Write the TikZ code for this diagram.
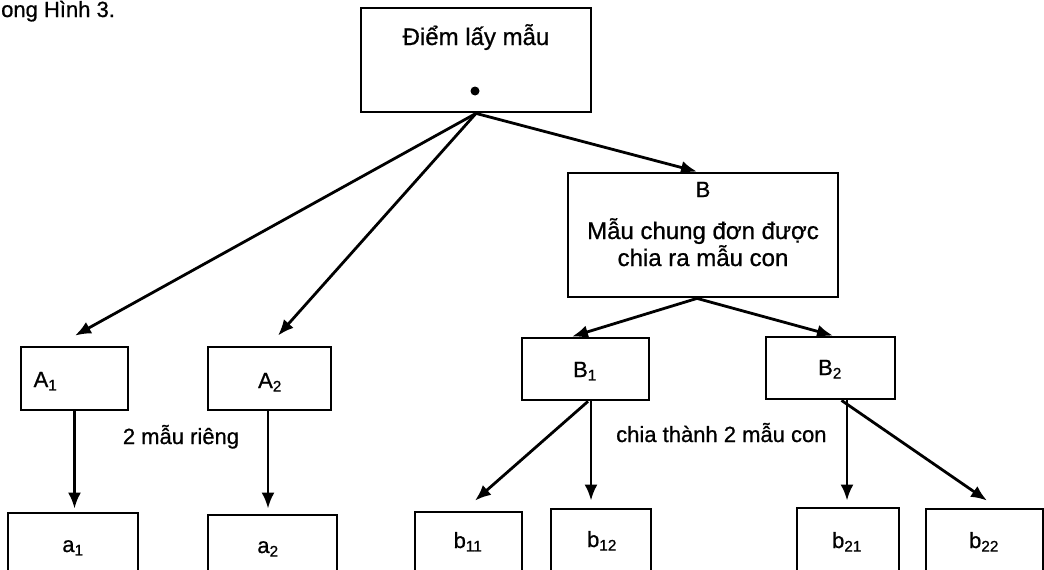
\documentclass[tikz,border=0pt]{standalone}
\usepackage{fontspec}
\setmainfont{Liberation Sans}[FakeBold=0.8]
\usetikzlibrary{arrows.meta}

\tikzset{
  frame/.style={draw, line width=2.8pt, inner sep=0pt},
  lbl/.style={inner sep=0pt, anchor=base, font=\fontsize{22}{26}\selectfont},
  biglbl/.style={inner sep=0pt, anchor=base, font=\fontsize{24}{27}\selectfont},
  conn/.style={line width=2.8pt, -{Latex[length=16pt,width=13pt]}},
}
\newcommand{\sub}[1]{\textsubscript{#1}}

\begin{document}
\begin{tikzpicture}[x=1pt,y=-1pt]
\useasboundingbox (0,0) rectangle (1044,570);
\clip (0,0) rectangle (1044,570);
\fill[white] (0,0) rectangle (1044,570);

% caption fragment at the top edge
\node[lbl, anchor=base west] (cap) at (1,17) {ong Hình 3.};

% sampling point
\node[frame, minimum width=230pt, minimum height=104pt] (top) at (476,60) {};
\node[biglbl] (toptext) at (476,45) {Điểm lấy mẫu};
\fill (475,91) circle (4.5pt) coordinate (pt);

% composite sample B
\node[frame, minimum width=270pt, minimum height=124pt] (B) at (703,235) {};
\node[lbl] (Bname) at (703,197) {B};
\node[biglbl, align=center, anchor=north] (Bdesc) at (703,218) {Mẫu chung đơn được\\chia ra mẫu con};

% first level
\node[frame, minimum width=107pt, minimum height=63pt] (A1) at (74.5,378.5) {};
\node[lbl] (A1t) at (45.5,387) {A\sub{1}};
\node[frame, minimum width=123pt, minimum height=63pt] (A2) at (269.5,378.5) {};
\node[lbl] (A2t) at (270,388) {A\sub{2}};
\node[frame, minimum width=127pt, minimum height=62pt] (B1) at (585.5,369) {};
\node[lbl] (B1t) at (585,377) {B\sub{1}};
\node[frame, minimum width=129pt, minimum height=62pt] (B2) at (830.5,368) {};
\node[lbl] (B2t) at (830,375) {B\sub{2}};

% second level (cut by the lower edge)
\node[frame, minimum width=130pt, minimum height=68pt] (a1) at (73,547) {};
\node[lbl] (a1t) at (73,552) {a\sub{1}};
\node[frame, minimum width=129pt, minimum height=68pt] (a2) at (272.5,549) {};
\node[lbl] (a2t) at (268,553) {a\sub{2}};
\node[frame, minimum width=107pt, minimum height=68pt] (b11) at (468.5,546) {};
\node[lbl] (b11t) at (468,548) {b\sub{11}};
\node[frame, minimum width=100pt, minimum height=68pt] (b12) at (601,543) {};
\node[lbl] (b12t) at (602,547) {b\sub{12}};
\node[frame, minimum width=102pt, minimum height=68pt] (b21) at (848,542) {};
\node[lbl] (b21t) at (847,548) {b\sub{21}};
\node[frame, minimum width=117pt, minimum height=68pt] (b22) at (984.5,543) {};
\node[lbl] (b22t) at (984,548) {b\sub{22}};

% notes
\node[lbl] (n1) at (181,444) {2 mẫu riêng};
\node[lbl, anchor=base west] (n2) at (616,442) {chia thành 2 mẫu con};

% connectors
\draw[conn] (top.south) -- ([shift={(0.5,-10)}]A1.north);
\draw[conn] (top.south) -- ([shift={(8.5,-10)}]A2.north);
\draw[conn] (top.south) -- ([xshift=-6pt]B.north);
\draw[conn] ([xshift=-6pt]B.south) -- ([xshift=-13.5pt]B1.north);
\draw[conn] ([xshift=-6pt]B.south) -- ([xshift=2.5pt]B2.north);
\draw[conn] (A1.south) -- ([shift={(1.5,-3)}]a1.north);
\draw[conn] ([xshift=-1.5pt]A2.south) -- ([shift={(-4.5,-5)}]a2.north);
\draw[conn] ([xshift=2.5pt]B1.south) -- ([shift={(6.5,-10)}]b11.north);
\draw[conn] ([xshift=5.5pt]B1.south) -- ([shift={(-10,-7)}]b12.north);
\draw[conn] ([xshift=16.5pt]B2.south) -- ([shift={(-1,-6)}]b21.north);
\draw[conn] ([xshift=11pt]B2.south) -- ([shift={(2.5,-7)}]b22.north);
\end{tikzpicture}
\end{document}
